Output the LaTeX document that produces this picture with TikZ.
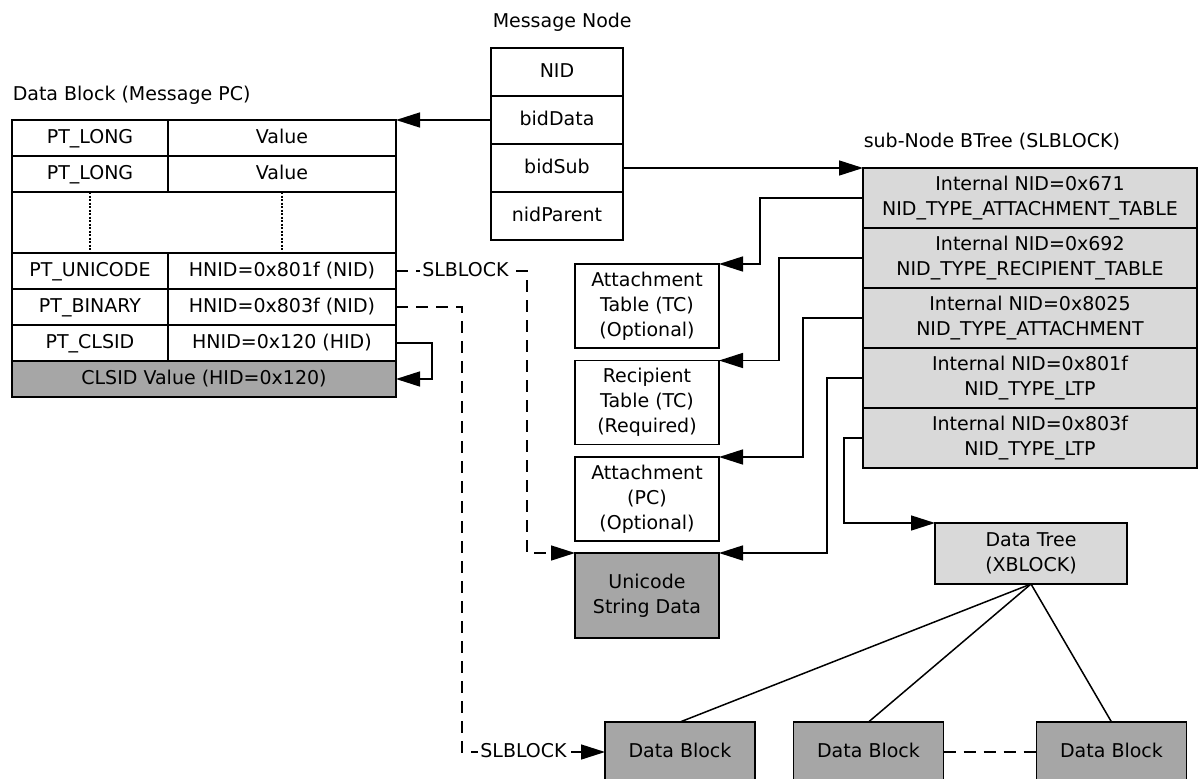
\documentclass[tikz,border=0pt]{standalone}
\usepackage{fontspec}
\setmainfont{DejaVu Sans}
\usetikzlibrary{arrows.meta}
\definecolor{lightfill}{HTML}{D9D9D9}
\definecolor{darkfill}{HTML}{A6A6A6}
\newcommand\dfont{\fontsize{19}{25}\selectfont}
\begin{document}
\begin{tikzpicture}[x=1pt,y=-1pt,
  line width=1.5pt,
  font=\dfont,
  box/.style={draw, inner sep=0pt, outer sep=0pt, align=center},
  oneline/.style={text height=14pt, text depth=3pt},
  keycell/.style={box, oneline, minimum width=156pt, minimum height=36pt},
  valcell/.style={box, oneline, minimum width=228pt, minimum height=36pt},
  msgcell/.style={box, oneline, minimum width=132pt, minimum height=48pt},
  btcell/.style={box, fill=lightfill, minimum width=334pt, minimum height=60pt},
  sidebox/.style={box, minimum width=144pt, minimum height=84pt},
  datablk/.style={box, fill=darkfill, minimum width=150pt, minimum height=68pt},
  title/.style={anchor=west, inner sep=0pt},
  arr/.style={-{Triangle[length=24pt,width=15pt]}},
  dashline/.style={dash pattern=on 12pt off 8pt},
  lbl/.style={fill=white, inner sep=2pt, oneline}]
\useasboundingbox (0,0) rectangle (1200,779);

% ---- Data Block (Message PC) ----
\node[title] (dbtitle) at (12,95) {Data Block (Message PC)};
\node[keycell] (k1) at (90,138) {PT\_LONG};
\node[valcell] (v1) at (282,138) {Value};
\node[keycell] (k2) at (90,174) {PT\_LONG};
\node[valcell] (v2) at (282,174) {Value};
\node[box, minimum width=384pt, minimum height=61pt] (gap) at (204,222.5) {};
\node[keycell] (k4) at (90,271) {PT\_UNICODE};
\node[valcell] (v4) at (282,271) {HNID=0x801f (NID)};
\node[keycell] (k5) at (90,307) {PT\_BINARY};
\node[valcell] (v5) at (282,307) {HNID=0x803f (NID)};
\node[keycell] (k6) at (90,343) {PT\_CLSID};
\node[valcell] (v6) at (282,343) {HNID=0x120 (HID)};
\node[box, oneline, fill=darkfill, minimum width=384pt, minimum height=36pt] (clsid) at (204,379) {CLSID Value (HID=0x120)};
\draw[line width=1.2pt, dash pattern=on 2pt off 1.5pt] (k2.south) -- (k4.north);
\draw[line width=1.2pt, dash pattern=on 2pt off 1.5pt] (v2.south) -- (v4.north);

% ---- Message Node ----
\node[title] (mtitle) at (492,22) {Message Node};
\node[msgcell] (mnid) at (557,72) {NID};
\node[msgcell] (mdata) at (557,120) {bidData};
\node[msgcell] (msub) at (557,168) {bidSub};
\node[msgcell] (mpar) at (557,216) {nidParent};

% ---- sub-Node BTree ----
\node[title] (bttitle) at (863,142) {sub-Node BTree (SLBLOCK)};
\node[btcell] (bt1) at (1030,198) {Internal NID=0x671\\NID\_TYPE\_ATTACHMENT\_TABLE};
\node[btcell] (bt2) at (1030,258) {Internal NID=0x692\\NID\_TYPE\_RECIPIENT\_TABLE};
\node[btcell] (bt3) at (1030,318) {Internal NID=0x8025\\NID\_TYPE\_ATTACHMENT};
\node[btcell] (bt4) at (1030,378) {Internal NID=0x801f\\NID\_TYPE\_LTP};
\node[btcell] (bt5) at (1030,438) {Internal NID=0x803f\\NID\_TYPE\_LTP};

% ---- sub-node targets ----
\node[sidebox] (atttab) at (647,306) {Attachment\\Table (TC)\\(Optional)};
\node[sidebox] (reciptab) at (647,402.5) {Recipient\\Table (TC)\\(Required)};
\node[sidebox] (attpc) at (647,499) {Attachment\\(PC)\\(Optional)};
\node[sidebox, fill=darkfill, minimum height=85pt] (unistr) at (647,595.5) {Unicode\\String Data};
\node[box, fill=lightfill, minimum width=192pt, minimum height=61pt] (dtree) at (1031,553.5) {Data Tree\\(XBLOCK)};

% ---- data blocks ----
\node[datablk] (db1) at (680,756) {};
\node[datablk] (db2) at (868.5,756) {};
\node[datablk] (db3) at (1111.5,756) {};
\node[box, oneline, draw=none] at (680,752) {Data Block};
\node[box, oneline, draw=none] at (868.5,752) {Data Block};
\node[box, oneline, draw=none] at (1111.5,752) {Data Block};

% ---- connectors ----
\draw[arr] (mdata.west) -- (v1.north east);
\draw[arr] (msub.east) -- (bt1.north west);
\draw[arr] (bt1.west) -- ++(-103,0) |- (atttab.north east);
\draw[arr] (bt2.west) -- ++(-84,0) |- (reciptab.north east);
\draw[arr] (bt3.west) -- ++(-60,0) |- (attpc.north east);
\draw[arr] (bt4.west) -- ++(-36,0) |- (unistr.north east);
\draw[arr] (bt5.west) -- ++(-19,0) |- (dtree.north west);
\draw[arr] (v6.east) -- ++(36,0) |- (clsid.east);
\draw[arr, dashline] (v4.east) -- ++(131,0) node[lbl, pos=0.53] {SLBLOCK} |- (unistr.north west);
\draw[arr, dashline] (v5.east) -- ++(66,0) |- node[lbl, pos=0.715] {SLBLOCK} (db1.west |- 0,752);
\draw (dtree.south) -- (db1.north);
\draw (dtree.south) -- (db2.north);
\draw (dtree.south) -- (db3.north);
\draw[dashline] (db2.east |- 0,752) -- (db3.west |- 0,752);
\end{tikzpicture}
\end{document}
